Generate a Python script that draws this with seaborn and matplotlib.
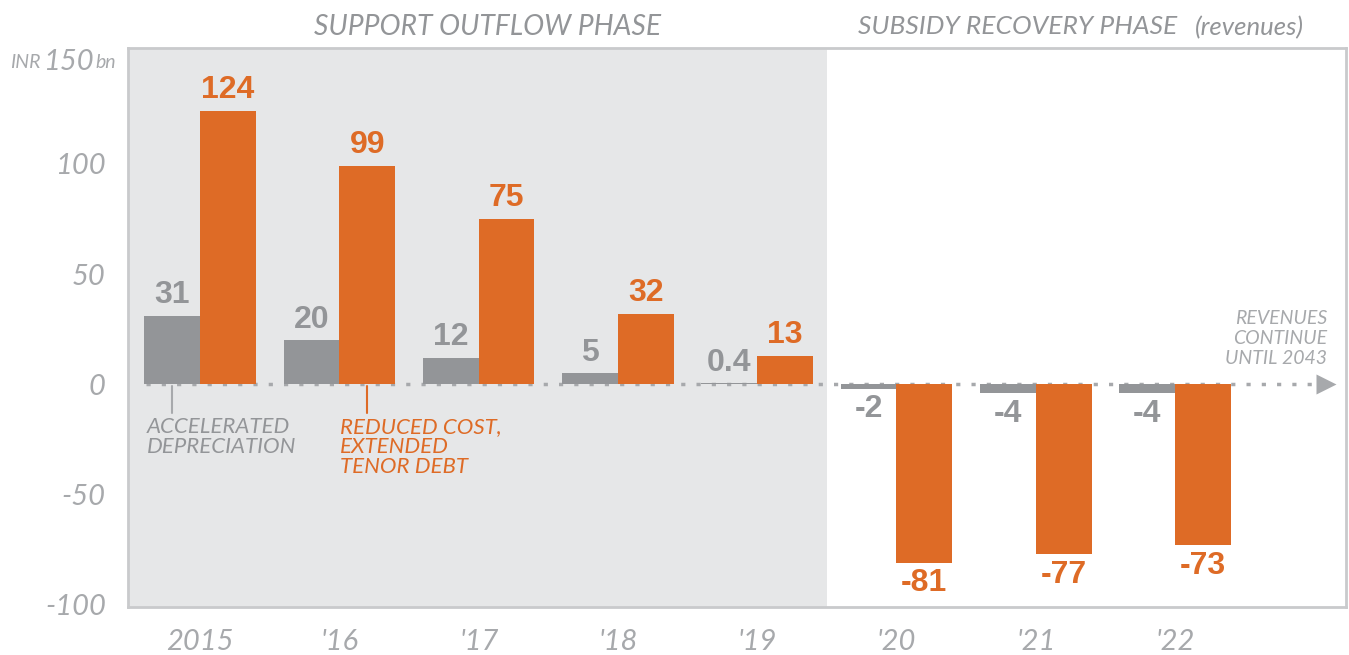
import pandas as pd
import numpy as np
import matplotlib.pyplot as plt
import seaborn as sns

# data
years = ["2015", "'16", "'17", "'18", "'19", "'20", "'21", "'22"]
depreciation = [31, 20, 12, 5, 0.4, -2, -4, -4]
reduced_cost = [124, 99, 75, 32, 13, -81, -77, -73]
dep_labels = ["31", "20", "12", "5", "0.4", "-2", "-4", "-4"]
cost_labels = ["124", "99", "75", "32", "13", "-81", "-77", "-73"]
y_ticks = [-100, -50, 0, 50, 100, 150]

GREY = '#939598'
ORANGE = '#de6b26'
TXT = '#a7a9ac'
SHADE = '#e6e7e8'

df = pd.DataFrame({
    'year': years * 2,
    'value': depreciation + reduced_cost,
    'series': ['Accelerated depreciation'] * len(years) + ['Reduced cost debt'] * len(years),
})

sns.set_style('white')
plt.rcParams['font.family'] = ['Lato', 'DejaVu Sans']

fig = plt.figure(figsize=(13.49, 6.55), dpi=100)
ax = fig.add_axes([128 / 1349, 48 / 655, 1218 / 1349, 559 / 655])

sns.barplot(data=df, x='year', y='value', hue='series', order=years,
            palette=[GREY, ORANGE], width=0.8, saturation=1, legend=False,
            linewidth=0, ax=ax, zorder=3)

xl = (-0.517, 8.227)
ax.set_xlim(*xl)
ax.set_ylim(-101, 152.5)
ax.axvspan(xl[0], 4.5, color=SHADE, zorder=0, lw=0)

# frame
for s in ax.spines.values():
    s.set_visible(True)
    s.set_color('#c9cacc')
    s.set_linewidth(2)

# dotted zero line with arrow
ax.plot([-0.39, 8.02], [0, 0], color=TXT, lw=2.5, ls=(0, (1.2, 3.2)), zorder=2)
ax.plot([8.08], [0], marker='>', ms=15, color=TXT, mec='none', zorder=2, clip_on=False)

# value labels
lab_font = dict(family=['Liberation Sans', 'DejaVu Sans'], fontweight='bold', fontsize=23)
ax.bar_label(ax.containers[0], labels=dep_labels, padding=4, color=GREY, **lab_font)
ax.bar_label(ax.containers[1], labels=cost_labels, padding=4, color=ORANGE, **lab_font)

# axis ticks
ax.set_xlabel('')
ax.set_ylabel('')
ax.set_yticks(y_ticks)
ax.set_yticklabels([str(t) if t != 150 else '' for t in y_ticks])
ax.tick_params(axis='y', length=0, pad=16, labelsize=21, labelcolor=TXT)
ax.tick_params(axis='x', length=0, pad=16, labelsize=21, labelcolor=TXT)
for lbl in ax.get_xticklabels() + ax.get_yticklabels():
    lbl.set_fontstyle('italic')

# y unit label
fig.text(10 / 1349, 1 - 62 / 655, 'INR', fontsize=14, color=TXT, style='italic', va='center')
fig.text(68 / 1349, 1 - 62 / 655, '150', fontsize=21, color=TXT, style='italic',
         va='center', ha='center')
fig.text(95 / 1349, 1 - 62 / 655, 'bn', fontsize=14, color=TXT, style='italic', va='center')

# phase headers
fig.text(488 / 1349, 1 - 27 / 655, 'SUPPORT OUTFLOW PHASE', fontsize=20.3, color=GREY,
         style='italic', ha='center', va='center')
fig.text(858 / 1349, 1 - 27 / 655, 'SUBSIDY RECOVERY PHASE', fontsize=19, color=GREY,
         style='italic', ha='left', va='center')
fig.text(1195 / 1349, 1 - 28 / 655, '(revenues)', fontsize=18.5, color=GREY,
         style='italic', ha='left', va='center')

# series annotations
ax.plot([-0.2, -0.2], [-1, -13], color=TXT, lw=1.5, zorder=4)
ax.text(-0.38, -15, 'ACCELERATED\nDEPRECIATION', color=GREY, fontsize=16, style='italic',
        va='top', ha='left', linespacing=1.0)
ax.plot([1.2, 1.2], [-1, -13], color=ORANGE, lw=1.5, zorder=4)
ax.text(1.007, -15, 'REDUCED COST,\nEXTENDED\nTENOR DEBT', color=ORANGE, fontsize=16,
        style='italic', va='top', ha='left', linespacing=1.0)
ax.text(8.09, 8, 'REVENUES\nCONTINUE\nUNTIL 2043', color=TXT, fontsize=14, style='italic',
        va='bottom', ha='right', linespacing=1.2, multialignment='right')

plt.savefig('out.png', dpi=100)
plt.close()
